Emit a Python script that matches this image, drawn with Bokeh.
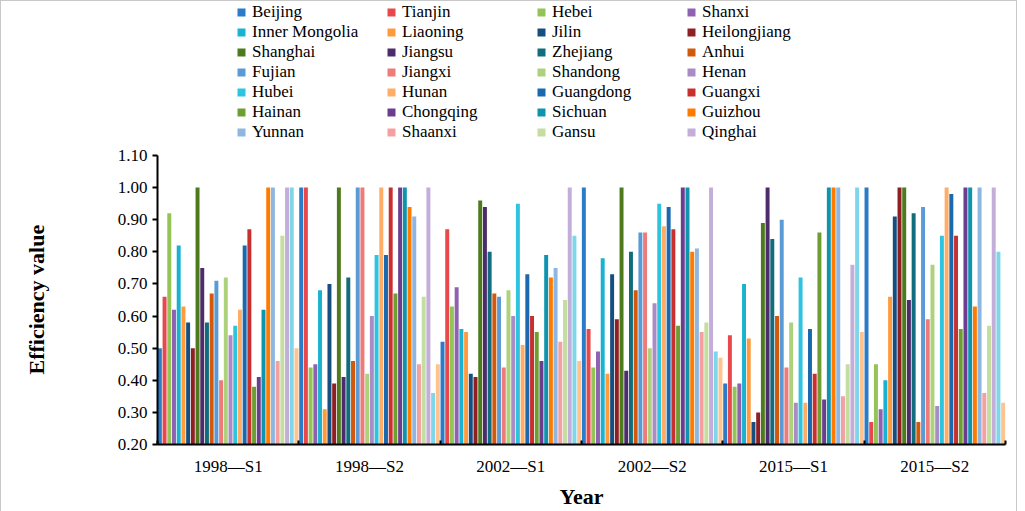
from bokeh.plotting import figure
from bokeh.models import (Range1d, FixedTicker, Legend, LegendItem, Title,
                          ColumnDataSource, NumeralTickFormatter)
from bokeh.embed import file_html
from bokeh.resources import INLINE

periods = ["1998—S1", "1998—S2", "2002—S1", "2002—S2", "2015—S1", "2015—S2"]

provinces = ["Beijing", "Tianjin", "Hebei", "Shanxi", "Inner Mongolia", "Liaoning",
             "Jilin", "Heilongjiang", "Shanghai", "Jiangsu", "Zhejiang", "Anhui",
             "Fujian", "Jiangxi", "Shandong", "Henan", "Hubei", "Hunan",
             "Guangdong", "Guangxi", "Hainan", "Chongqing", "Sichuan", "Guizhou",
             "Yunnan", "Shaanxi", "Gansu", "Qinghai", "Ningxia", "Xinjiang"]

colors = ["#2A7BC8", "#E8474C", "#94C356", "#8E62B0", "#19B2D1", "#FF9B3D",
          "#164E80", "#8E1F22", "#4D7A1C", "#4D2C6C", "#116D7E", "#D1580C",
          "#5B9BD5", "#EE7A7A", "#AED27C", "#A98BC6", "#2EC4E0", "#FFAD66",
          "#1A68AE", "#C8302F", "#6E9E32", "#6A3D8E", "#0F94AE", "#FF7A00",
          "#8DB6E0", "#F4A0A0", "#C3DEA0", "#C3AEDA", "#7FD6EA", "#FFC38F"]

# efficiency values, one list per period, ordered as `provinces`
v1998_s1 = [0.50, 0.66, 0.92, 0.62, 0.82, 0.63, 0.58, 0.50, 1.00, 0.75,
            0.58, 0.67, 0.71, 0.40, 0.72, 0.54, 0.57, 0.62, 0.82, 0.87,
            0.38, 0.41, 0.62, 1.00, 1.00, 0.46, 0.85, 1.00, 1.00, 0.50]
v1998_s2 = [1.00, 1.00, 0.44, 0.45, 0.68, 0.31, 0.70, 0.39, 1.00, 0.41,
            0.72, 0.46, 1.00, 1.00, 0.42, 0.60, 0.79, 1.00, 0.79, 1.00,
            0.67, 1.00, 1.00, 0.94, 0.91, 0.45, 0.66, 1.00, 0.36, 0.45]
v2002_s1 = [0.52, 0.87, 0.63, 0.69, 0.56, 0.55, 0.42, 0.41, 0.96, 0.94,
            0.80, 0.67, 0.66, 0.44, 0.68, 0.60, 0.95, 0.51, 0.73, 0.60,
            0.55, 0.46, 0.79, 0.72, 0.75, 0.52, 0.65, 1.00, 0.85, 0.46]
v2002_s2 = [1.00, 0.56, 0.44, 0.49, 0.78, 0.42, 0.73, 0.59, 1.00, 0.43,
            0.80, 0.68, 0.86, 0.86, 0.50, 0.64, 0.95, 0.88, 0.94, 0.87,
            0.57, 1.00, 1.00, 0.80, 0.81, 0.55, 0.58, 1.00, 0.49, 0.47]
v2015_s1 = [0.39, 0.54, 0.38, 0.39, 0.70, 0.53, 0.27, 0.30, 0.89, 1.00,
            0.84, 0.60, 0.90, 0.44, 0.58, 0.33, 0.72, 0.33, 0.56, 0.42,
            0.86, 0.34, 1.00, 1.00, 1.00, 0.35, 0.45, 0.76, 1.00, 0.55]
v2015_s2 = [1.00, 0.27, 0.45, 0.31, 0.40, 0.66, 0.91, 1.00, 1.00, 0.65,
            0.92, 0.27, 0.94, 0.59, 0.76, 0.32, 0.85, 1.00, 0.98, 0.85,
            0.56, 1.00, 1.00, 0.63, 1.00, 0.36, 0.57, 1.00, 0.80, 0.33]

yticks = [0.20, 0.30, 0.40, 0.50, 0.60, 0.70, 0.80, 0.90, 1.00, 1.10]
y_title = "Efficiency value"
x_title = "Year"

table = [v1998_s1, v1998_s2, v2002_s1, v2002_s2, v2015_s1, v2015_s2]
N = len(provinces)
G = len(periods)

FONT = "Liberation Serif"

W, H = 1017, 512
LEFT, RIGHT, BOTTOM = 156, 13, 69
FRAME_H = H - BOTTOM           # frame reaches the top of the figure
AXIS_PX = 289                  # pixels used by the 0.20 .. 1.10 axis
y_lo, y_hi = yticks[0], yticks[-1]
y_top = y_lo + (y_hi - y_lo) * FRAME_H / AXIS_PX

p = figure(width=W, height=H, output_backend="svg", toolbar_location=None,
           x_range=Range1d(0, G), y_range=Range1d(y_lo, y_top),
           min_border_left=LEFT, min_border_right=RIGHT, min_border_top=0,
           min_border_bottom=BOTTOM,
           styles={"border": "1px solid #C8C8C8"})
p.outline_line_color = None
p.xgrid.grid_line_color = None
p.ygrid.grid_line_color = None

items = []
for si, prov in enumerate(provinces):
    src = ColumnDataSource(dict(
        x=[g + (si + 0.5) / N for g in range(G)],
        top=[table[g][si] for g in range(G)]))
    r = p.vbar(x="x", top="top", bottom=0, width=0.84 / N, source=src,
               fill_color=colors[si], line_color=None)
    items.append(LegendItem(label=prov, renderers=[r]))

# x axis: labels at group centres, small inward ticks at group boundaries
centers = [g + 0.5 for g in range(G)]
p.xaxis.ticker = FixedTicker(ticks=centers, minor_ticks=list(range(G + 1)))
p.xaxis.major_label_overrides = {c: lab for c, lab in zip(centers, periods)}
p.xaxis.major_tick_in = 0
p.xaxis.major_tick_out = 0
p.xaxis.minor_tick_in = 4
p.xaxis.minor_tick_out = 0
p.xaxis.minor_tick_line_width = 2
p.xaxis.minor_tick_line_color = "black"
p.xaxis.major_label_standoff = 12
p.xaxis.axis_label = x_title
p.xaxis.axis_label_standoff = 5

p.yaxis.ticker = FixedTicker(ticks=yticks)
p.yaxis.bounds = (y_lo, y_hi)
p.yaxis.formatter = NumeralTickFormatter(format="0.00")
p.yaxis.major_tick_in = 0
p.yaxis.major_tick_out = 5
p.yaxis.major_tick_line_width = 2
p.yaxis.major_tick_line_color = "black"
p.yaxis.minor_tick_line_color = None
p.yaxis.major_label_standoff = 5
# a blank label only reserves room, so the real title can sit further out
p.yaxis.axis_label = "\u00a0"
p.yaxis.axis_label_standoff = 33

for ax in (p.xaxis, p.yaxis):
    ax.axis_line_color = "black"
    ax.axis_line_width = 2
    ax.major_label_text_font = FONT
    ax.major_label_text_font_size = "17px"
    ax.major_label_text_color = "black"
    ax.axis_label_text_font = FONT
    ax.axis_label_text_font_size = "22px"
    ax.axis_label_text_font_style = "bold"
    ax.axis_label_text_color = "black"

# y title as a side title, so that it can be centred on the 0.20-1.10 span
ytitle = Title(text=y_title, align="left", offset=70, standoff=10,
               text_font=FONT, text_font_size="22px", text_font_style="bold",
               text_color="black")
p.add_layout(ytitle, "left")

LEG_BOTTOM = 141               # legend bottom, px below the figure top
legend = Legend(items=items[:28], ncols=4, orientation="horizontal",
                location=(79, FRAME_H - LEG_BOTTOM), padding=0, margin=0,
                spacing=0, glyph_width=10, glyph_height=10, label_standoff=6,
                label_width=134, label_height=18,
                label_text_font=FONT, label_text_font_size="17px",
                label_text_color="black",
                border_line_color=None, background_fill_alpha=0)
p.add_layout(legend)

open("out.html", "w").write(file_html(p, INLINE))
